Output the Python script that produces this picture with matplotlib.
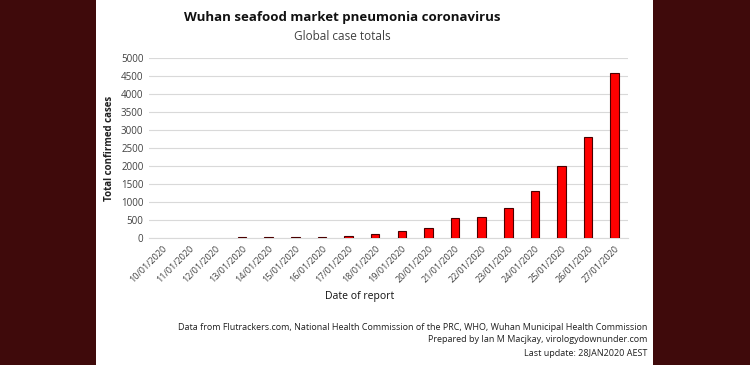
import matplotlib.pyplot as plt
from matplotlib.patches import Rectangle

dates = ['10/01/2020', '11/01/2020', '12/01/2020', '13/01/2020', '14/01/2020',
         '15/01/2020', '16/01/2020', '17/01/2020', '18/01/2020', '19/01/2020',
         '20/01/2020', '21/01/2020', '22/01/2020', '23/01/2020', '24/01/2020',
         '25/01/2020', '26/01/2020', '27/01/2020']
cases = [0, 0, 0, 41, 41, 41, 45, 62, 130, 200,
         291, 556, 580, 846, 1318, 2010, 2796, 4576]
yticks = [0, 500, 1000, 1500, 2000, 2500, 3000, 3500, 4000, 4500, 5000]

plt.rcParams['font.family'] = ['Open Sans', 'DejaVu Sans']

fig = plt.figure(figsize=(7.5, 3.65), dpi=100)
fig.patch.set_facecolor('#3f0a0b')
# white panel in the middle
fig.patches.append(Rectangle((96 / 750, 0), (653 - 96) / 750, 1, transform=fig.transFigure,
                             facecolor='white', edgecolor='none', zorder=-5))

ax = fig.add_axes([149 / 750, 1 - 238.3 / 365, (628 - 149) / 750, (238.3 - 57.7) / 365])
ax.set_zorder(2)
ax.set_facecolor('none')
x = range(len(dates))
lw = [0 if c == 0 else 0.8 for c in cases]
ax.bar(x, cases, width=0.32, color='#ff0000', edgecolor='#4a0000', linewidth=lw, zorder=3)
ax.set_xlim(-0.5, len(dates) - 0.5)
ax.set_ylim(0, 5000)
ax.set_yticks(yticks)
ax.set_yticklabels([str(v) for v in yticks], fontsize=7, color='#404040')
ax.set_xticks(list(x))
ax.set_xticklabels(dates, rotation=45, ha='right', rotation_mode='anchor', fontsize=6.5, color='#404040')
ax.tick_params(length=0, pad=4)
ax.grid(axis='y', color='#d9d9d9', linewidth=0.8, zorder=0)
for s in ['top', 'right', 'left']:
    ax.spines[s].set_visible(False)
ax.spines['bottom'].set_color('#d9d9d9')
ax.set_ylabel('Total confirmed cases', fontsize=7, fontweight='bold', color='#202020', labelpad=4)

fig.text(342 / 750, 1 - 17 / 365, 'Wuhan seafood market pneumonia coronavirus',
         ha='center', va='center', fontsize=9.5, fontweight='bold', color='#111111')
fig.text(342 / 750, 1 - 36 / 365, 'Global case totals',
         ha='center', va='center', fontsize=8.5, color='#404040')
fig.text(360 / 750, 1 - 296 / 365, 'Date of report',
         ha='center', va='center', fontsize=7.5, color='#111111')

foot = ['Data from Flutrackers.com, National Health Commission of the PRC, WHO, Wuhan Municipal Health Commission',
        'Prepared by Ian M Macjkay, virologydownunder.com',
        'Last update: 28JAN2020 AEST']
for i, line in enumerate(foot):
    fig.text(647 / 750, 1 - (327 + i * 13) / 365, line, ha='right', va='center',
             fontsize=6.5, color='#202020')

fig.savefig('out.png', dpi=100, facecolor=fig.get_facecolor())
